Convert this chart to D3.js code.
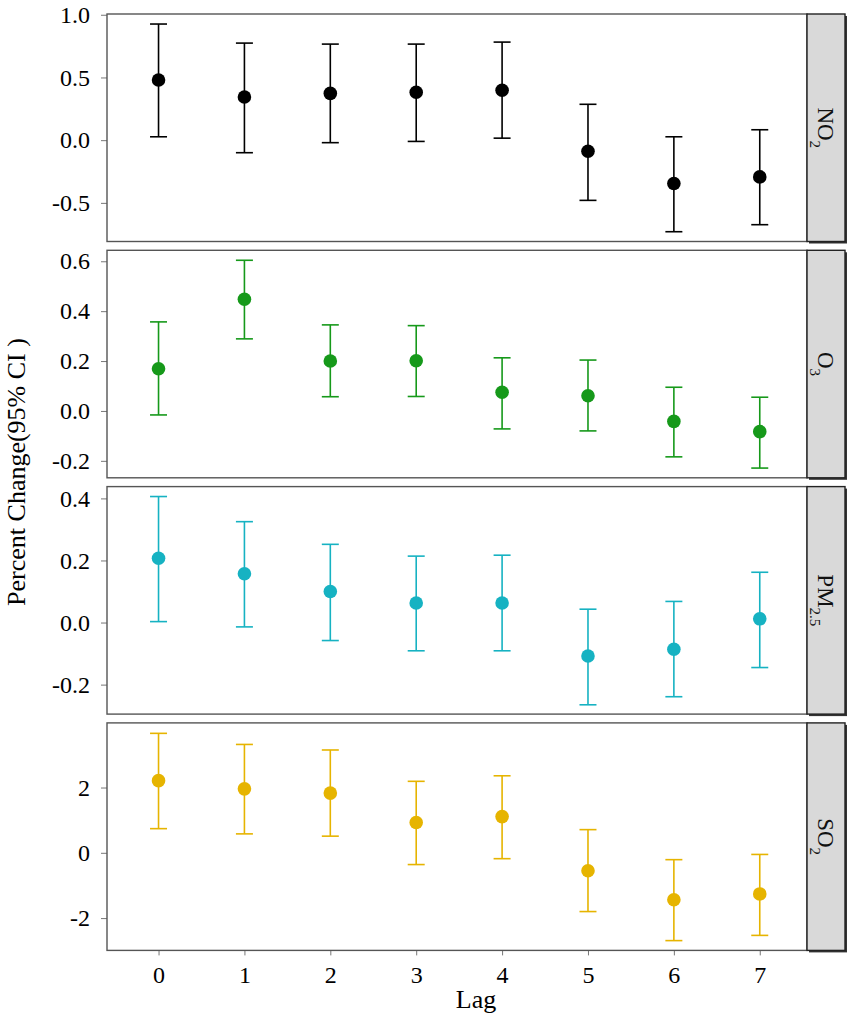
<!DOCTYPE html>
<html>
<head>
<meta charset="utf-8">
<script src="https://cdn.jsdelivr.net/npm/d3@7"></script>
<style>
  body { margin: 0; background: white; }
  svg text { font-family: "Liberation Serif", "Times New Roman", serif; }
</style>
</head>
<body>
<div id="chart"></div>
<script>
  // lag days on the x axis
  var lags = [0, 1, 2, 3, 4, 5, 6, 7];

  // NO2
  var no2Est  = [0.480, 0.344, 0.373, 0.382, 0.398, -0.088, -0.346, -0.293];
  var no2Low  = [0.027, -0.100, -0.020, -0.010, 0.016, -0.480, -0.730, -0.674];
  var no2High = [0.926, 0.774, 0.766, 0.766, 0.782, 0.286, 0.027, 0.083];

  // O3
  var o3Est  = [0.169, 0.448, 0.200, 0.201, 0.075, 0.061, -0.042, -0.083];
  var o3Low  = [-0.016, 0.289, 0.057, 0.058, -0.072, -0.080, -0.184, -0.229];
  var o3High = [0.357, 0.604, 0.345, 0.342, 0.213, 0.204, 0.095, 0.055];

  // PM2.5
  var pmEst  = [0.207, 0.157, 0.100, 0.063, 0.063, -0.108, -0.086, 0.012];
  var pmLow  = [0.003, -0.014, -0.058, -0.091, -0.091, -0.265, -0.239, -0.145];
  var pmHigh = [0.406, 0.325, 0.252, 0.214, 0.217, 0.043, 0.068, 0.162];

  // SO2
  var so2Est  = [2.21, 1.96, 1.83, 0.93, 1.11, -0.55, -1.44, -1.26];
  var so2Low  = [0.74, 0.58, 0.51, -0.36, -0.18, -1.80, -2.69, -2.53];
  var so2High = [3.66, 3.32, 3.15, 2.19, 2.36, 0.71, -0.21, -0.05];

  // tick values of each panel
  var no2Ticks = [-0.5, 0, 0.5, 1.0];
  var o3Ticks  = [-0.2, 0, 0.2, 0.4, 0.6];
  var pmTicks  = [-0.2, 0, 0.2, 0.4];
  var so2Ticks = [-2, 0, 2];

  var
    WIDTH = 851,
    HEIGHT = 1021,
    PANEL_LEFT = 107,
    PANEL_RIGHT = 807,
    STRIP_WIDTH = 38,
    PANEL_TOP = 14,
    PANEL_STEP = 236.3,
    PANEL_HEIGHT = 227.5,
    POINT_RADIUS = 6.8,
    CAP_HALF = 8.5,
    BORDER_COLOR = "#555",
    FONT_SIZE = 24;

  var locale = d3.formatLocale({decimal: ".", thousands: ",", grouping: [3], currency: ["", ""], minus: "-"});

  var panels = [
    {label: "NO", sub: "2", color: "#000000", est: no2Est, low: no2Low, high: no2High,
     ticks: no2Ticks, domain: [-0.808, 1.006], fmt: locale.format(".1f")},
    {label: "O", sub: "3", color: "#16991a", est: o3Est, low: o3Low, high: o3High,
     ticks: o3Ticks, domain: [-0.268, 0.644], fmt: locale.format(".1f")},
    {label: "PM", sub: "2.5", color: "#16b2c2", est: pmEst, low: pmLow, high: pmHigh,
     ticks: pmTicks, domain: [-0.295, 0.438], fmt: locale.format(".1f")},
    {label: "SO", sub: "2", color: "#e6b400", est: so2Est, low: so2Low, high: so2High,
     ticks: so2Ticks, domain: [-2.99, 3.98], fmt: locale.format("d")}
  ];

  var svg = d3.select("#chart").append("svg")
    .attr("width", WIDTH)
    .attr("height", HEIGHT);

  svg.append("rect").attr("width", WIDTH).attr("height", HEIGHT).attr("fill", "white");

  var x = d3.scaleLinear().domain([-0.6, 7.55]).range([PANEL_LEFT, PANEL_RIGHT]);

  panels.forEach(function(p, i){
    var top = PANEL_TOP + i * PANEL_STEP,
        bottom = top + PANEL_HEIGHT,
        y = d3.scaleLinear().domain(p.domain).range([bottom, top]),
        g = svg.append("g");

    // y axis ticks
    var yAxis = d3.axisLeft(y).tickValues(p.ticks).tickFormat(p.fmt)
      .tickSize(6).tickPadding(11);
    var ay = g.append("g").attr("transform", "translate(" + PANEL_LEFT + ",0)").call(yAxis);
    ay.select(".domain").remove();
    ay.selectAll("line").attr("stroke", "#777").attr("stroke-width", 1);
    ay.selectAll("text").attr("fill", "#000").style("font-size", FONT_SIZE + "px");

    // x axis only on the bottom panel
    if (i === panels.length - 1) {
      var xAxis = d3.axisBottom(x).tickValues(lags).tickFormat(d3.format("d"))
        .tickSize(5).tickPadding(11);
      var ax = g.append("g").attr("transform", "translate(0," + bottom + ")").call(xAxis);
      ax.select(".domain").remove();
      ax.selectAll("line").attr("stroke", "#777").attr("stroke-width", 1);
      ax.selectAll("text").attr("fill", "#000").style("font-size", FONT_SIZE + "px");
    }

    // panel border
    g.append("rect")
      .attr("x", PANEL_LEFT).attr("y", top)
      .attr("width", PANEL_RIGHT - PANEL_LEFT).attr("height", PANEL_HEIGHT)
      .attr("fill", "none").attr("stroke", BORDER_COLOR).attr("stroke-width", 1.4);

    // error bars
    var bars = g.append("g").attr("stroke", p.color).attr("stroke-width", 1.6);
    lags.forEach(function(lag, k){
      var cx = x(lag);
      bars.append("line").attr("x1", cx).attr("x2", cx)
        .attr("y1", y(p.low[k])).attr("y2", y(p.high[k]));
      bars.append("line").attr("x1", cx - CAP_HALF).attr("x2", cx + CAP_HALF)
        .attr("y1", y(p.low[k])).attr("y2", y(p.low[k]));
      bars.append("line").attr("x1", cx - CAP_HALF).attr("x2", cx + CAP_HALF)
        .attr("y1", y(p.high[k])).attr("y2", y(p.high[k]));
    });

    // points
    g.append("g").attr("fill", p.color)
      .selectAll("circle").data(lags).enter().append("circle")
      .attr("cx", function(d){ return x(d); })
      .attr("cy", function(d, k){ return y(p.est[k]); })
      .attr("r", POINT_RADIUS);

    // strip on the right, with a small shadow
    g.append("rect")
      .attr("x", PANEL_RIGHT + 2).attr("y", top + 2)
      .attr("width", STRIP_WIDTH).attr("height", PANEL_HEIGHT)
      .attr("fill", "#333");
    g.append("rect")
      .attr("x", PANEL_RIGHT).attr("y", top)
      .attr("width", STRIP_WIDTH).attr("height", PANEL_HEIGHT)
      .attr("fill", "#d9d9d9").attr("stroke", "#222").attr("stroke-width", 1.4);

    var cxs = PANEL_RIGHT + STRIP_WIDTH / 2,
        cys = top + PANEL_HEIGHT / 2;
    var label = g.append("text")
      .attr("transform", "translate(" + (cxs - 8) + "," + cys + ") rotate(90)")
      .attr("text-anchor", "middle")
      .style("font-size", "23px")
      .attr("fill", "#111");
    label.append("tspan").text(p.label);
    label.append("tspan").attr("baseline-shift", "sub").style("font-size", "15px").text(p.sub);
  });

  // axis titles
  svg.append("text")
    .attr("transform", "translate(25,472) rotate(-90)")
    .attr("text-anchor", "middle")
    .style("font-size", "26px")
    .text("Percent Change(95% CI )");

  svg.append("text")
    .attr("x", (PANEL_LEFT + PANEL_RIGHT + STRIP_WIDTH) / 2)
    .attr("y", 1008)
    .attr("text-anchor", "middle")
    .style("font-size", "26px")
    .text("Lag");
</script>
</body>
</html>
